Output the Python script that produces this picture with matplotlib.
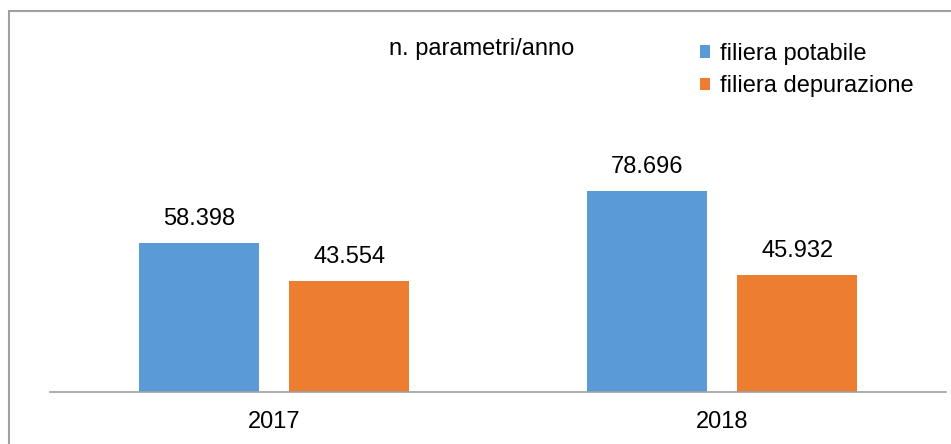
import numpy as np
import matplotlib.pyplot as plt
from matplotlib.patches import Rectangle

plt.rcParams['font.family'] = ['Liberation Sans', 'DejaVu Sans']

anni = ["2017", "2018"]
potabile = [58.398, 78.696]
depurazione = [43.554, 45.932]
etichette_pot = ["58.398", "78.696"]
etichette_dep = ["43.554", "45.932"]

blu = "#5B9BD5"
arancio = "#ED7D31"

fig = plt.figure(figsize=(9.51, 4.44), dpi=100)
ax = fig.add_axes([50 / 951, 52 / 444, 896 / 951, 381 / 444])

x = np.arange(len(anni))
w = 0.268
b1 = ax.bar(x - 0.168, potabile, w, color=blu, label="filiera potabile")
b2 = ax.bar(x + 0.168, depurazione, w, color=arancio, label="filiera depurazione")

for rect, txt in zip(b1, etichette_pot):
    ax.annotate(txt, (rect.get_x() + rect.get_width() / 2, rect.get_height()),
                xytext=(0, 13), textcoords="offset pixels", ha="center", va="bottom", fontsize=17)
for rect, txt in zip(b2, etichette_dep):
    ax.annotate(txt, (rect.get_x() + rect.get_width() / 2, rect.get_height()),
                xytext=(0, 13), textcoords="offset pixels", ha="center", va="bottom", fontsize=17)

ax.set_xlim(-0.5, 1.5)
ax.set_ylim(0, 381 / 2.552)
ax.set_xticks(x)
ax.set_xticklabels(anni, fontsize=17)
ax.tick_params(axis="x", length=0, pad=14)
ax.set_yticks([])
for s in ["top", "left", "right"]:
    ax.spines[s].set_visible(False)
ax.spines["bottom"].set_color("#a0a0a0")
ax.spines["bottom"].set_linewidth(1.2)

fig.text(482 / 951, 1 - 49 / 444, "n. parametri/anno", ha="center", va="center", fontsize=17)

fig.legend(loc="upper left", bbox_to_anchor=(688 / 951, 1 - 31 / 444), frameon=False,
           fontsize=17, handlelength=0.45, handleheight=0.45, handletextpad=0.4,
           labelspacing=0.45, borderpad=0)

# cornice del grafico
fig.patches.append(Rectangle((9 / 951, -0.1), 1.0, 1 - 11 / 444 + 0.1, transform=fig.transFigure,
                             fill=False, edgecolor="#a0a0a0", linewidth=1.5))

fig.savefig("out.png", dpi=100)
